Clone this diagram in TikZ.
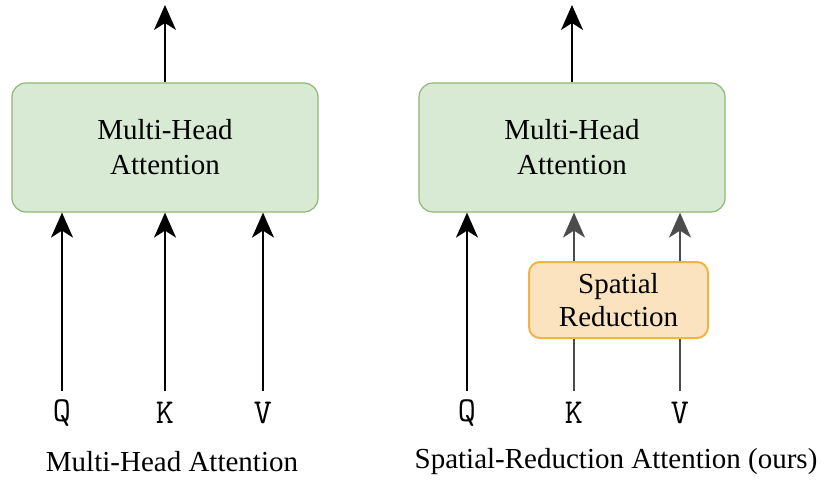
\documentclass[tikz,border=0pt]{standalone}
\usepackage{fontspec}
\setmainfont{Liberation Serif}
\usetikzlibrary{arrows.meta}
\definecolor{mhafill}{HTML}{D8EAD3}
\definecolor{mhadraw}{HTML}{8DB870}
\definecolor{srfill}{HTML}{FCE3BF}
\definecolor{srdraw}{HTML}{F0B441}
\tikzset{
  mhabox/.style={draw=mhadraw, fill=mhafill, line width=1.2pt, rounded corners=14pt,
    minimum width=306pt, minimum height=129pt, inner sep=0pt, align=center,
    font=\fontsize{29}{35}\selectfont},
  srbox/.style={draw=srdraw, fill=srfill, line width=2pt, rounded corners=11pt,
    minimum width=179pt, minimum height=76pt, inner sep=0pt, align=center,
    font=\fontsize{29}{33}\selectfont},
  inlabel/.style={font=\ttfamily\fontsize{35}{38}\selectfont, inner sep=0pt},
  caption/.style={font=\fontsize{29}{33}\selectfont, inner sep=0pt},
  flow/.style={line width=1.8pt, -{Stealth[length=25pt, width=22pt, inset=7pt]}},
  plain/.style={line width=1.8pt},
}
\begin{document}
\begin{tikzpicture}[x=1pt, y=-1pt]
\useasboundingbox (0,0) rectangle (827,480);
% left
\node[mhabox] (mhaL) at (165,147.5) {Multi-Head\\Attention};
\coordinate (outL) at (165,5);
\node[inlabel] (qL) at (62,413) {Q};
\node[inlabel] (kL) at (165,413) {K};
\node[inlabel] (vL) at (263,413) {V};
\coordinate (qLs) at (62,391);
\coordinate (kLs) at (165,391);
\coordinate (vLs) at (263,391);
\draw[flow] (mhaL.north) -- (outL);
\draw[flow] (qLs) -- (qLs |- mhaL.south);
\draw[flow] (kLs) -- (kLs |- mhaL.south);
\draw[flow] (vLs) -- (vLs |- mhaL.south);
\node[caption] (capL) at (172,462) {Multi-Head Attention};
% right
\node[mhabox] (mhaR) at (572,147.5) {Multi-Head\\Attention};
\coordinate (outR) at (572,5);
\node[srbox] (sr) at (618.5,300) {Spatial\\Reduction};
\node[inlabel] (qR) at (467,413) {Q};
\node[inlabel] (kR) at (574,413) {K};
\node[inlabel] (vR) at (680,413) {V};
\coordinate (qRs) at (467,391);
\coordinate (kRs) at (574,391);
\coordinate (vRs) at (680,391);
\draw[flow] (mhaR.north) -- (outR);
\draw[flow] (qRs) -- (qRs |- mhaR.south);
\draw[plain, black!70] (kRs) -- (kRs |- sr.south);
\draw[plain, black!70] (vRs) -- (vRs |- sr.south);
\draw[flow, black!70] (kRs |- sr.north) -- (kRs |- mhaR.south);
\draw[flow, black!70] (vRs |- sr.north) -- (vRs |- mhaR.south);
\node[caption] (capR) at (616,462) {Spatial-Reduction Attention (ours)};
\end{tikzpicture}
\end{document}
